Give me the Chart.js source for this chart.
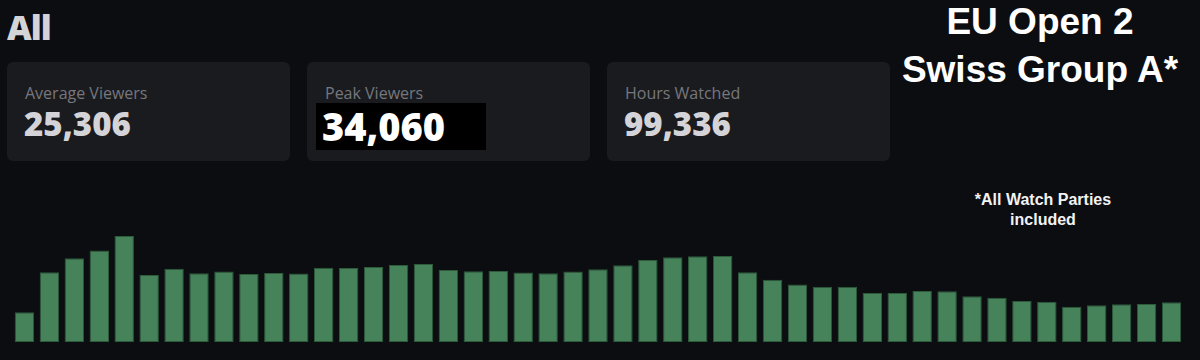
<!DOCTYPE html>
<html>
<head>
<meta charset="utf-8">
<script src="https://cdn.jsdelivr.net/npm/chart.js@4"></script>
<style>
  html, body { margin: 0; padding: 0; }
  body {
    width: 1200px; height: 360px; overflow: hidden;
    background: #0c0d11; position: relative;
    font-family: "Open Sans", "Noto Sans", sans-serif;
  }
  .all {
    position: absolute; left: 7px; top: 4px;
    font-size: 34px; font-weight: 800; color: #d4d4d8; letter-spacing: -1px;
  }
  .card {
    position: absolute; top: 62px; width: 283px; height: 99px;
    background: #1a1b1e; border-radius: 6px;
  }
  .card .label {
    position: absolute; left: 18px; top: 20px;
    font-size: 16px; color: #77777d;
  }
  .card .value {
    position: absolute; left: 17px; top: 39px;
    font-size: 33px; font-weight: 800; color: #d4d4d8;
  }
  .card .value.boxed {
    left: 9px; top: 41px; width: 170px; height: 47px; line-height: 47px;
    background: #000; color: #fff; padding-left: 6px; box-sizing: border-box;
    font-size: 38px;
  }
  .title {
    position: absolute; left: 880px; width: 320px; text-align: center;
    font-family: "Liberation Sans", Arial, sans-serif; font-weight: 700;
    font-size: 37px; color: #fff; line-height: 48px; top: -2px;
  }
  .note {
    position: absolute; left: 943px; width: 200px; text-align: center;
    font-family: "Liberation Sans", Arial, sans-serif; font-weight: 700;
    font-size: 16px; color: #f2f2f2; line-height: 20px; top: 190px;
  }
  .chart-box { position: absolute; left: 0; top: 180px; width: 1200px; height: 162px; }
</style>
</head>
<body>
<div class="all">All</div>
<div id="cards"></div>
<div class="title">EU Open 2<br>Swiss Group A*</div>
<div class="note">*All Watch Parties<br>included</div>
<div class="chart-box"><canvas id="viewersChart"></canvas></div>

<script>
// stat cards
const statLabels = ['Average Viewers', 'Peak Viewers', 'Hours Watched'];
const statValues = ['25,306', '34,060', '99,336'];

// viewers per time slot
const slots = [];
const viewers = [
  9540, 22390, 26890, 29340, 34060, 21530, 23550, 22070, 22590, 21850,
  22170, 21950, 23870, 23780, 24100, 24740, 25060, 23130, 22720, 22810,
  22270, 22070, 22590, 23360, 24640, 26350, 27210, 27540, 27630, 22390,
  20020, 18480, 17770, 17770, 15740, 15740, 16390, 16290, 14680, 14230,
  13170, 12950, 11340, 11790, 12110, 12210, 12760
];
for (let i = 0; i < viewers.length; i++) slots.push(String(i + 1));

const cardLefts = [7, 307, 607];
const cards = document.getElementById('cards');
statLabels.forEach((label, i) => {
  const card = document.createElement('div');
  card.className = 'card';
  card.style.left = cardLefts[i] + 'px';
  const l = document.createElement('div');
  l.className = 'label';
  l.textContent = label;
  const v = document.createElement('div');
  v.className = i === 1 ? 'value boxed' : 'value';
  v.textContent = statValues[i];
  card.appendChild(l);
  card.appendChild(v);
  cards.appendChild(card);
});

const ctx = document.getElementById('viewersChart').getContext('2d');
new Chart(ctx, {
  type: 'bar',
  data: {
    labels: slots,
    datasets: [{
      data: viewers,
      backgroundColor: '#46825a',
      borderColor: '#2c5a3b',
      borderWidth: 1,
      borderSkipped: false,
      barPercentage: 0.78,
      categoryPercentage: 1
    }]
  },
  options: {
    responsive: true,
    maintainAspectRatio: false,
    animation: false,
    layout: { padding: { left: 12, right: 16, top: 0, bottom: 0 } },
    plugins: { legend: { display: false }, tooltip: { enabled: false } },
    scales: {
      x: { display: false },
      y: { display: false, min: 0, max: 52000 }
    }
  }
});
</script>
</body>
</html>
